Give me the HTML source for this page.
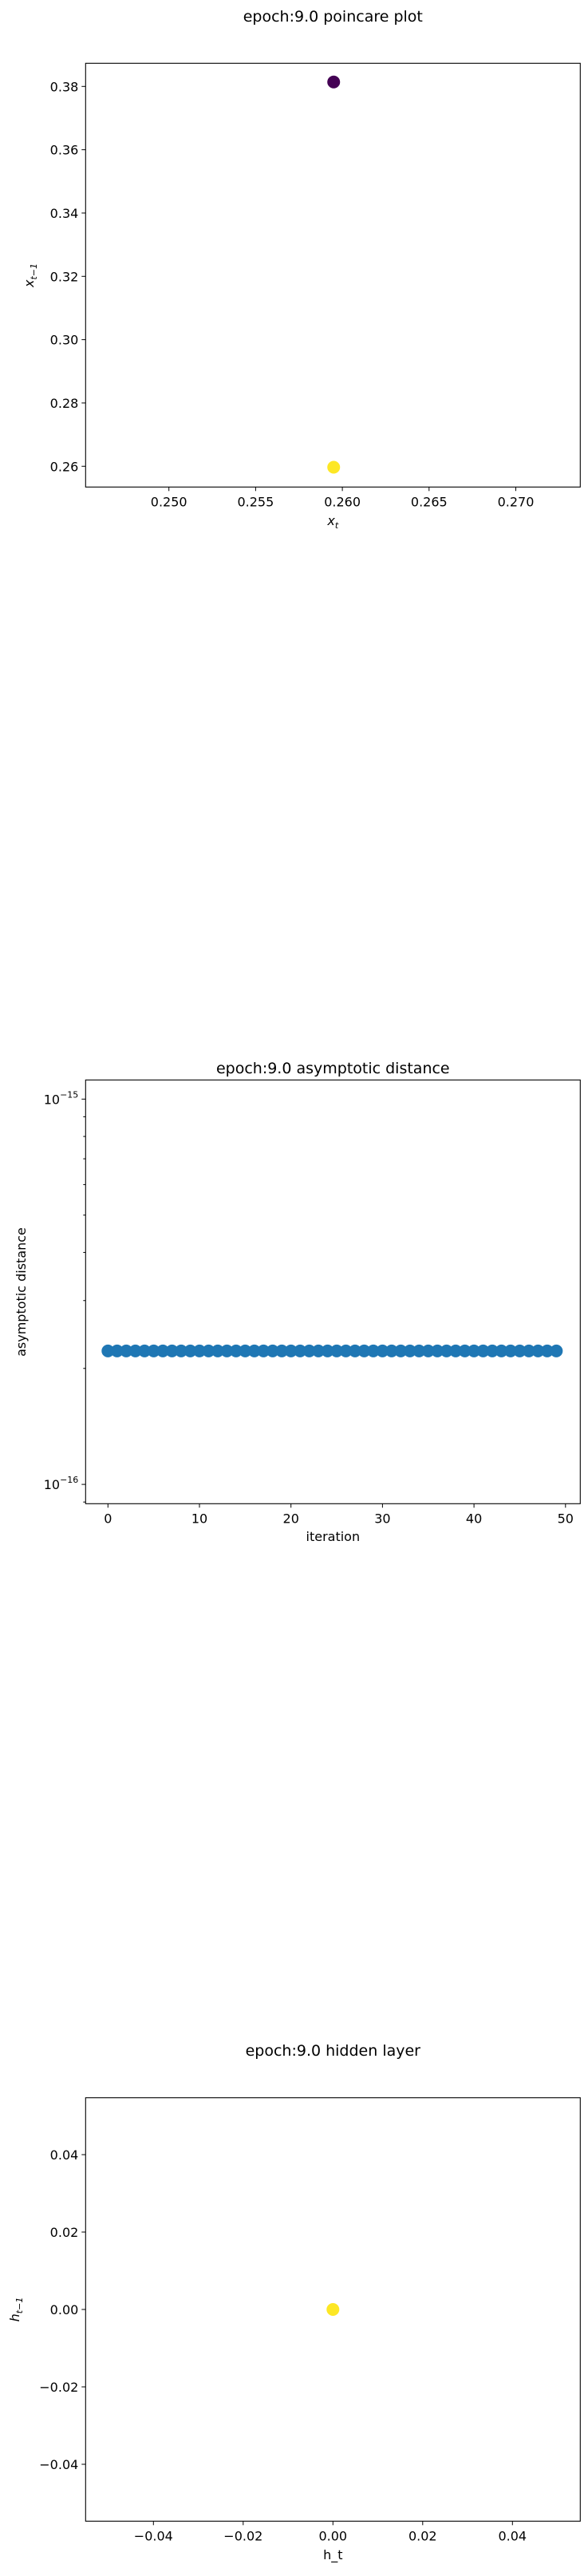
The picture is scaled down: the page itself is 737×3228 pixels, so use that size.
<!DOCTYPE html>
<html><head><meta charset="utf-8"><style>
html,body{margin:0;padding:0;background:#fff;}
svg text{font-family:"DejaVu Sans","Liberation Sans",sans-serif;fill:#000;}
</style></head><body>
<svg id="fig" width="737" height="3223" viewBox="0 0 737 3223" xmlns="http://www.w3.org/2000/svg"></svg>
<script>
// Plot 1: poincare
const poincareX = [0.2595, 0.2595];
const poincareY = [0.3814, 0.2597];
const poincareColors = ["#440154", "#fde725"];
const poincareXTicks = [0.250, 0.255, 0.260, 0.265, 0.270];
const poincareXTickLabels = ["0.250", "0.255", "0.260", "0.265", "0.270"];
const poincareYTicks = [0.26, 0.28, 0.30, 0.32, 0.34, 0.36, 0.38];
const poincareYTickLabels = ["0.26", "0.28", "0.30", "0.32", "0.34", "0.36", "0.38"];
// Plot 2: asymptotic distance
const iterations = Array.from({length: 50}, (_, i) => i);
const asymDist = [2.22e-16,2.22e-16,2.22e-16,2.22e-16,2.22e-16,2.22e-16,2.22e-16,2.22e-16,2.22e-16,2.22e-16,
2.22e-16,2.22e-16,2.22e-16,2.22e-16,2.22e-16,2.22e-16,2.22e-16,2.22e-16,2.22e-16,2.22e-16,
2.22e-16,2.22e-16,2.22e-16,2.22e-16,2.22e-16,2.22e-16,2.22e-16,2.22e-16,2.22e-16,2.22e-16,
2.22e-16,2.22e-16,2.22e-16,2.22e-16,2.22e-16,2.22e-16,2.22e-16,2.22e-16,2.22e-16,2.22e-16,
2.22e-16,2.22e-16,2.22e-16,2.22e-16,2.22e-16,2.22e-16,2.22e-16,2.22e-16,2.22e-16,2.22e-16];
const asymXTicks = [0, 10, 20, 30, 40, 50];
const asymYDecades = [-16, -15];
// Plot 3: hidden layer
const hiddenX = [0.0];
const hiddenY = [0.0];
const hiddenColors = ["#fde725"];
const hiddenTicks = [-0.04, -0.02, 0.00, 0.02, 0.04];
const hiddenTickLabels = ["\u22120.04", "\u22120.02", "0.00", "0.02", "0.04"];

const NS = "http://www.w3.org/2000/svg";
const svg = document.getElementById("fig");
function mk(tag, attrs, parent, text) {
  const e = document.createElementNS(NS, tag);
  for (const k in attrs) e.setAttribute(k, attrs[k]);
  if (text !== undefined) e.textContent = text;
  (parent || svg).appendChild(e);
  return e;
}
const L = 107.3, R = 727.3;

function frame(top, bottom, name) {
  const r = mk("rect", {x: L, y: top, width: R - L, height: bottom - top, fill: "none", stroke: "#000", "stroke-width": 1.1});
  
  
}
function xtick(x, bottom, label, name) {
  const t = mk("line", {x1: x, x2: x, y1: bottom, y2: bottom + 5, stroke: "#000", "stroke-width": 1});
  
  
  const tx = mk("text", {x: x, y: bottom + 24, "font-size": 16, "text-anchor": "middle"}, svg, label);
  
  
}
function ytick(y, label, name, len) {
  const t = mk("line", {x1: L - (len || 5), x2: L, y1: y, y2: y, stroke: "#000", "stroke-width": 1});
  
  
  if (label !== null) {
    const tx = mk("text", {x: L - 9, y: y + 6, "font-size": 16, "text-anchor": "end"}, svg, label);
    
    
  }
}
function title(y, text, name) {
  const t = mk("text", {x: (L + R) / 2, y: y, "font-size": 19, "text-anchor": "middle"}, svg, text);
  
  
}

// ---------- Plot 1 ----------
{
  const top = 79.3, bottom = 610.3;
  const sx = v => 211.7 + (v - 0.250) * (108.7 / 0.005);
  const sy = v => 108.3 + (0.38 - v) * (79.33 / 0.02);
  title(27, "epoch:9.0 poincare plot", "poincare");
  frame(top, bottom, "poincare");
  poincareXTicks.forEach((v, i) => xtick(sx(v), bottom, poincareXTickLabels[i], "poincare"));
  poincareYTicks.forEach((v, i) => ytick(sy(v), poincareYTickLabels[i], "poincare"));
  poincareX.forEach((v, i) => {
    const c = mk("circle", {cx: sx(v), cy: sy(poincareY[i]), r: 8, fill: poincareColors[i]});
    
    
  });
  const xl = mk("text", {x: (L + R) / 2, y: 658, "font-size": 16, "text-anchor": "middle", "font-style": "italic"}, svg);
  
  
  xl.innerHTML = 'x<tspan font-size="11" dy="4">t</tspan>';
  const yl = mk("text", {x: 0, y: 0, "font-size": 16, "text-anchor": "middle", "font-style": "italic", transform: "translate(42,345) rotate(-90)"}, svg);
  
  
  yl.innerHTML = 'x<tspan font-size="11" dy="4">t\u22121</tspan>';
}

// ---------- Plot 2 ----------
{
  const top = 1353.3, bottom = 1884.3;
  const sx = v => 135.3 + v * 11.47;
  const sy = v => 1377.3 + (-15 - Math.log10(v)) * 482.8;
  title(1345, "epoch:9.0 asymptotic distance", "asymptotic");
  frame(top, bottom, "asymptotic");
  asymXTicks.forEach(v => xtick(sx(v), bottom, String(v), "asymptotic"));
  asymYDecades.forEach(d => {
    const y = sy(Math.pow(10, d));
    ytick(y, null, "asymptotic");
    const tx = mk("text", {x: L - 9, y: y + 6, "font-size": 16, "text-anchor": "end"}, svg);
    
    
    tx.innerHTML = '10<tspan font-size="11" dy="-8">\u2212' + (-d) + '</tspan>';
  });
  for (let d = -17; d <= -15; d++) {
    for (let k = 2; k <= 9; k++) {
      const y = sy(k * Math.pow(10, d));
      if (y > top && y < bottom) ytick(y, null, "asymptotic-minor", 3);
    }
  }
  iterations.forEach((v, i) => {
    const c = mk("circle", {cx: sx(v), cy: sy(asymDist[i]), r: 8, fill: "#1f77b4"});
    
    
  });
  const xl = mk("text", {x: (L + R) / 2, y: 1931, "font-size": 16, "text-anchor": "middle"}, svg, "iteration");
  
  
  const yl = mk("text", {x: 0, y: 0, "font-size": 16, "text-anchor": "middle", transform: "translate(32,1619) rotate(-90)"}, svg, "asymptotic distance");
  
  
}

// ---------- Plot 3 ----------
{
  const top = 2628.7, bottom = 3159.3;
  const sx = v => 417.3 + v * (112.5 / 0.02);
  const sy = v => 2894 - v * (97 / 0.02);
  title(2576, "epoch:9.0 hidden layer", "hidden");
  frame(top, bottom, "hidden");
  hiddenTicks.forEach((v, i) => xtick(sx(v), bottom, hiddenTickLabels[i], "hidden"));
  hiddenTicks.forEach((v, i) => ytick(sy(v), hiddenTickLabels[i], "hidden"));
  hiddenX.forEach((v, i) => {
    const c = mk("circle", {cx: sx(v), cy: sy(hiddenY[i]), r: 8, fill: hiddenColors[i]});
    
    
  });
  const xl = mk("text", {x: (L + R) / 2, y: 3207, "font-size": 16, "text-anchor": "middle"}, svg, "h_t");
  
  
  const yl = mk("text", {x: 0, y: 0, "font-size": 16, "text-anchor": "middle", "font-style": "italic", transform: "translate(24,2894) rotate(-90)"}, svg);
  
  
  yl.innerHTML = 'h<tspan font-size="11" dy="4">t\u22121</tspan>';
}
</script>
</body></html>
